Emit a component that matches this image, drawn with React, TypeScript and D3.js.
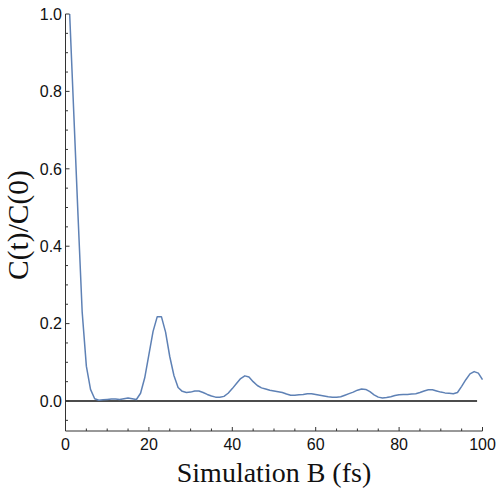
import React from "react";
import * as d3 from "d3";

const times: number[] = d3.range(1, 101);
const ratio: number[] = [
  1.0, 0.74, 0.48, 0.23, 0.09, 0.03, 0.006, 0.002, 0.003, 0.004,
  0.005, 0.005, 0.004, 0.006, 0.008, 0.006, 0.004, 0.02, 0.06, 0.12,
  0.18, 0.218, 0.218, 0.178, 0.115, 0.066, 0.035, 0.025, 0.022, 0.023,
  0.026, 0.026, 0.022, 0.017, 0.013, 0.01, 0.0095, 0.012, 0.02, 0.032,
  0.045, 0.058, 0.065, 0.062, 0.05, 0.04, 0.034, 0.031, 0.028, 0.026,
  0.024, 0.022, 0.018, 0.015, 0.015, 0.016, 0.017, 0.019, 0.019, 0.017,
  0.015, 0.013, 0.011, 0.01, 0.01, 0.011, 0.015, 0.019, 0.023, 0.028,
  0.031, 0.03, 0.024, 0.016, 0.01, 0.008, 0.009, 0.011, 0.014, 0.016,
  0.017, 0.017, 0.018, 0.019, 0.022, 0.026, 0.029, 0.029, 0.026, 0.023,
  0.021, 0.02, 0.019, 0.022, 0.038, 0.055, 0.07, 0.076, 0.072, 0.055,
];
const xMajorTicks: number[] = [0, 20, 40, 60, 80, 100];
const xMinorTicks: number[] = d3.range(5, 100, 5).filter((v) => v % 20 !== 0);
const yMajorTicks: number[] = [0, 0.2, 0.4, 0.6, 0.8, 1.0];
const yMinorTicks: number[] = [-0.05, 0.05, 0.1, 0.15, 0.25, 0.3, 0.35, 0.45, 0.5, 0.55, 0.65, 0.7, 0.75, 0.85, 0.9, 0.95];
const xDomain: [number, number] = [0, 100];
const yDomain: [number, number] = [-0.0775, 1.0];
const zeroLineExtent: [number, number] = [0, 98.7];
const xTitle = "Simulation B (fs)";
const yTitle = "C(t)/C(0)";

export default function App() {
  const W = 498, H = 498;
  const x = d3.scaleLinear().domain(xDomain).range([65.5, 482.5]);
  const y = d3.scaleLinear().domain(yDomain).range([431, 14]);
  const line = d3
    .line<number>()
    .x((_, i) => x(times[i]))
    .y((d) => y(d));
  const axisColor = "#333";
  const sans = "'Liberation Sans', Arial, sans-serif";
  const serif = "'Liberation Serif', 'Times New Roman', serif";
  return (
    <svg width={W} height={H} style={{ position: "absolute", left: 0, top: 0, background: "#fff" }}>
      <line x1={x(zeroLineExtent[0])} x2={x(zeroLineExtent[1])} y1={y(0)} y2={y(0)} stroke="#111" strokeWidth={1.5} />
      <path d={line(ratio) || ""} fill="none" stroke="#5E81B5" strokeWidth={1.5} strokeLinejoin="round" />
      <line x1={x(0)} x2={x(0)} y1={y(yDomain[0])} y2={y(yDomain[1])} stroke={axisColor} strokeWidth={1} />
      <line x1={x(0)} x2={x(100)} y1={y(yDomain[0])} y2={y(yDomain[0])} stroke={axisColor} strokeWidth={1} />
      {xMajorTicks.map((t) => (
        <g key={"xM" + t}>
          <line x1={x(t)} x2={x(t)} y1={y(yDomain[0])} y2={y(yDomain[0]) - 4} stroke={axisColor} />
          <text x={x(t)} y={450} textAnchor="middle" fontFamily={sans} fontSize={16} fill="#111">
            {t}
          </text>
        </g>
      ))}
      {xMinorTicks.map((t) => (
        <line key={"xm" + t} x1={x(t)} x2={x(t)} y1={y(yDomain[0])} y2={y(yDomain[0]) - 2.5} stroke={axisColor} />
      ))}
      {yMajorTicks.map((t) => (
        <g key={"yM" + t}>
          <line x1={x(0)} x2={x(0) + 4} y1={y(t)} y2={y(t)} stroke={axisColor} />
          <text x={62} y={y(t)} dy="0.36em" textAnchor="end" fontFamily={sans} fontSize={16} fill="#111">
            {d3.format(".1f")(t)}
          </text>
        </g>
      ))}
      {yMinorTicks.map((t) => (
        <line key={"ym" + t} x1={x(0)} x2={x(0) + 2.5} y1={y(t)} y2={y(t)} stroke={axisColor} />
      ))}
      <text x={274} y={482} textAnchor="middle" fontFamily={serif} fontSize={28} fill="#111">
        {xTitle}
      </text>
      <text
        transform={`translate(28, 225) rotate(-90)`}
        textAnchor="middle"
        fontFamily={serif}
        fontSize={29.5}
        fill="#111"
      >
        {yTitle}
      </text>
    </svg>
  );
}
